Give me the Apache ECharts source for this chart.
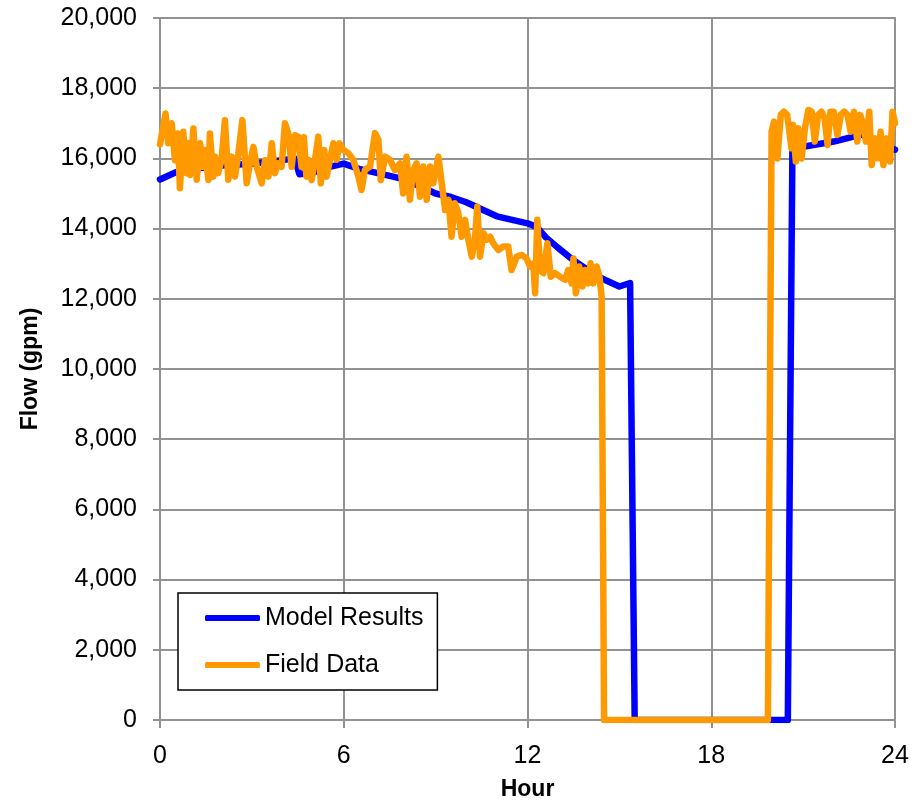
<!DOCTYPE html>
<html>
<head>
<meta charset="utf-8">
<script src="https://cdn.jsdelivr.net/npm/echarts@6/dist/echarts.min.js"></script>
<style>
html,body{margin:0;padding:0;background:#fff;}
#c{width:919px;height:804px;}
</style>
</head>
<body>
<div id="c"></div>
<script>
const xTicks = [0, 6, 12, 18, 24];
const yTicks = [0, 2000, 4000, 6000, 8000, 10000, 12000, 14000, 16000, 18000, 20000];

const modelHours = [0, 0.5, 1, 2, 3, 4, 4.4, 4.55, 5, 5.5, 6, 6.5, 7, 7.5, 8, 8.5, 9, 9.5, 10, 10.5, 11, 11.5, 12, 12.3, 12.6, 13, 13.5, 14, 14.5, 15, 15.35, 15.5, 20.5, 20.65, 21, 22, 22.9, 23.2, 23.5, 24];
const modelFlow  = [15400, 15600, 15700, 15800, 15850, 15950, 16000, 15550, 15600, 15750, 15850, 15700, 15600, 15500, 15400, 15200, 15000, 14900, 14750, 14550, 14350, 14250, 14150, 14050, 13750, 13450, 13100, 12800, 12550, 12350, 12450, 0, 0, 16250, 16330, 16480, 16680, 16570, 16400, 16250];

const fieldHours = [0, 0.18, 0.27, 0.38, 0.49, 0.58, 0.65, 0.76, 0.87, 0.92, 0.98, 1.09, 1.20, 1.31, 1.41, 1.47, 1.58, 1.63, 1.74, 1.80, 1.90, 2.01, 2.12, 2.23, 2.34, 2.45, 2.56, 2.69, 2.83, 2.94, 3.05, 3.16, 3.32, 3.43, 3.54, 3.65, 3.75, 3.86, 3.97, 4.08, 4.19, 4.30, 4.41, 4.52, 4.62, 4.70, 4.78,
  4.84, 4.95, 5.06, 5.17, 5.25, 5.36, 5.44, 5.55, 5.66, 5.77, 5.86, 5.99, 6.15, 6.31, 6.48, 6.58, 6.69, 6.86, 7.02, 7.13, 7.21, 7.35, 7.51, 7.67, 7.84, 7.94, 8.05, 8.16, 8.27, 8.38, 8.49, 8.60, 8.71, 8.82, 8.92, 9.09, 9.20, 9.31,
  9.42, 9.52, 9.63, 9.74, 9.85, 9.96, 10.07, 10.18, 10.29, 10.36, 10.45, 10.56, 10.67, 10.78, 10.88, 11.05, 11.21, 11.37, 11.48, 11.65, 11.81, 11.97, 12.08, 12.19, 12.25, 12.32, 12.41, 12.52, 12.65, 12.76, 12.90, 13.06, 13.23, 13.33, 13.44, 13.50, 13.58, 13.69, 13.80, 13.88, 13.99, 14.06, 14.15, 14.26, 14.35, 14.42, 14.5,
  19.85, 19.97, 20.05, 20.16, 20.27, 20.37, 20.48, 20.62, 20.67, 20.76, 20.84, 20.95, 21.06, 21.17, 21.28, 21.38, 21.49, 21.60, 21.70, 21.80, 21.89, 22.00, 22.12, 22.23, 22.34, 22.45, 22.55, 22.66, 22.77, 22.86, 22.97, 23.05, 23.16, 23.24, 23.35, 23.45, 23.53, 23.62, 23.73, 23.84, 23.92, 24.0];
const fieldFlow = [16400, 17280, 16430, 17000, 15950, 16710, 15150, 16760, 15580, 16430, 15530, 16850, 15390, 16430, 15760, 16240, 15390, 16710, 15480, 16050, 15580, 15950, 17090, 15390, 16050, 15480, 16140, 17090, 15290, 15860, 16330, 15760, 15290, 15950, 15480, 16430, 15580, 15860, 15760, 17000, 16710, 15760, 16660, 16620, 15760, 16600, 15480,
  15960, 15380, 15960, 16620, 15290, 16240, 15480, 15960, 16430, 15960, 16430, 16240, 16150, 15960, 15480, 15100, 15670, 15770, 16720, 16530, 15380, 16050, 15960, 15670, 15860, 15000, 16050, 14820, 15670, 15860, 14910, 15770, 14820, 15770, 15290, 16050, 15290, 14530,
  14820, 13770, 14720, 14440, 13770, 14250, 13680, 13200, 13770, 14620, 13200, 13870, 13680, 13770, 13580, 13390, 13490, 13490, 12820, 13200, 13250, 13150, 12920, 13010, 12160, 14250, 12820, 12730, 13580, 12630, 12730, 12630, 12540, 12820, 12440, 13150, 12160, 12920, 12350, 12820, 12440, 13010, 12440, 12920, 12630, 12060, 0,
  0, 16760, 17050, 16000, 17240, 17330, 17240, 16290, 16950, 15910, 16860, 16000, 16860, 17380, 17330, 16480, 17240, 17330, 17140, 16380, 17330, 17330, 16670, 17240, 17330, 17240, 16760, 17330, 16480, 17240, 16950, 16480, 17330, 15810, 16570, 16000, 16760, 15810, 16570, 15910, 17330, 17000];

const seriesNames = ['Model Results', 'Field Data'];
const xName = 'Hour';
const yName = 'Flow (gpm)';

const zip = (a, b) => a.map((v, i) => [v, b[i]]);
const FONT = "'Liberation Sans', Arial, sans-serif";
const GRID = '#929292';

const chart = echarts.init(document.getElementById('c'), null, {renderer: 'canvas'});
chart.setOption({
  animation: false,
  backgroundColor: '#ffffff',
  grid: {left: 160, right: 24, top: 18, bottom: 84, show: true, borderColor: GRID, borderWidth: 2,
         containLabel: false, outerBoundsMode: 'none'},
  legend: {
    orient: 'vertical',
    left: 178, top: 593,
    padding: [12, 14, 12, 27],
    itemGap: 21,
    itemWidth: 55, itemHeight: 6,
    icon: 'roundRect',
    borderColor: '#000', borderWidth: 1.5,
    backgroundColor: '#fff',
    textStyle: {fontFamily: FONT, fontSize: 25, color: '#000', lineHeight: 26},
    data: seriesNames
  },
  xAxis: {
    type: 'value', min: xTicks[0], max: xTicks[xTicks.length - 1], interval: 6,
    name: xName, nameLocation: 'middle', nameGap: 58,
    nameTextStyle: {fontFamily: FONT, fontSize: 23, fontWeight: 'bold', color: '#000'},
    axisLine: {show: true, lineStyle: {color: GRID, width: 2}},
    axisTick: {show: true, length: 8, lineStyle: {color: GRID, width: 2}},
    axisLabel: {fontFamily: FONT, fontSize: 25, color: '#000', margin: 24},
    splitLine: {show: true, lineStyle: {color: GRID, width: 2}}
  },
  yAxis: {
    type: 'value', min: yTicks[0], max: yTicks[yTicks.length - 1], interval: 2000,
    name: yName, nameLocation: 'middle', nameGap: 118, nameRotate: 90,
    nameTextStyle: {fontFamily: FONT, fontSize: 23, fontWeight: 'bold', color: '#000'},
    axisLine: {show: true, lineStyle: {color: GRID, width: 2}},
    axisTick: {show: true, length: 7, lineStyle: {color: GRID, width: 2}},
    axisLabel: {fontFamily: FONT, fontSize: 25, color: '#000', margin: 23,
      formatter: v => v.toLocaleString('en-US')},
    splitLine: {show: true, lineStyle: {color: GRID, width: 2}}
  },
  series: [
    {name: seriesNames[0], type: 'line', data: zip(modelHours, modelFlow), symbol: 'none',
     color: '#0000ff', lineStyle: {color: '#0000ff', width: 6.5, join: 'round', cap: 'round'}, z: 2},
    {name: seriesNames[1], type: 'line', data: zip(fieldHours, fieldFlow), symbol: 'none',
     color: '#ff9900', lineStyle: {color: '#ff9900', width: 6.5, join: 'round', cap: 'round'}, z: 3}
  ]
});
</script>
</body>
</html>
